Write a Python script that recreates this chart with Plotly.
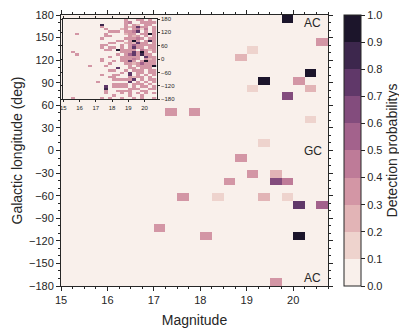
import numpy as np
import plotly.graph_objects as go

# ---------------- data ----------------
mag_edges = np.arange(15.0, 20.75 + 1e-9, 0.25)          # 23 magnitude bins
lon_edges = np.linspace(-180.0, 180.0, 36)               # 35 longitude bins

# main panel: non-empty cells (magnitude, longitude, detection probability)
cell_mag = [19.875, 20.625, 19.125, 18.875, 20.375, 19.375, 20.125, 19.125,
            20.375, 19.875, 17.375, 17.875, 20.375, 19.375, 18.875, 19.125,
            19.625, 18.625, 19.625, 19.875, 17.625, 18.375, 19.375, 19.875,
            20.125, 20.625, 17.125, 18.125, 20.125, 19.625]
cell_lon = [175, 144, 134, 123, 103, 93, 93, 82,
            82, 72, 51, 51, 41, 10, -10, -31,
            -31, -41, -41, -41, -62, -62, -62, -62,
            -72, -72, -103, -113, -113, -175]
cell_prob = [0.95, 0.35, 0.15, 0.28, 0.95, 0.95, 0.35, 0.15,
             0.25, 0.62, 0.35, 0.35, 0.15, 0.15, 0.35, 0.35,
             0.25, 0.35, 0.60, 0.42, 0.35, 0.15, 0.25, 0.15,
             0.75, 0.55, 0.35, 0.35, 0.95, 0.35]

# inset: rows from +180 (top) to -180 (bottom); '.' = empty, digit d = 0.d5
inset_rows = [
    "...............3..33.3.",
    "...............34..3333",
    ".........8.....3.32.33.",
    ".........3.....323733.3",
    "..........3...23.3414.3",
    "...........333.3347.3.3",
    "...3......3....233.3393",
    "..........33....323.3.3",
    ".........3.....33343.33",
    ".............33.393.383",
    "...........33..232733.3",
    ".........33...3.3533333",
    ".........3.33.3.3733.33",
    "..........33.93333.4323",
    "..3...........3337393.3",
    "...3.........3.3573833.",
    "...........3..33333.733",
    ".........3....33343.323",
    ".........3..3.3373.3933",
    "...........3...33235333",
    "......3...3.....3.33339",
    ".............7..33.333.",
    "...........33..3.333.33",
    "..............3.7.33.33",
    ".........3..33..7.3.3.3",
    "...........33...3233.3.",
    "............333337.3.33",
    "........3.......7.3.3.3",
    "............3333.333.3.",
    "..........7.3333.3.33.3",
    "..........8.....333..33",
    "..........3..3333..33..",
    "..........3...3.3.3.3.3",
    "............3...3..3...",
    "..3......3.3..3..3.3..3",
]

labels = [("AC", 170), ("GC", 0), ("AC", -170)]
cbar_ticks = [round(0.1 * i, 1) for i in range(11)]

# ---------------- build grids ----------------
mag_c = 0.5 * (mag_edges[:-1] + mag_edges[1:])
lon_c = 0.5 * (lon_edges[:-1] + lon_edges[1:])
nx, ny = len(mag_c), len(lon_c)

z_main = np.zeros((ny, nx))
for m, l, p in zip(cell_mag, cell_lon, cell_prob):
    i = np.clip(np.digitize(m, mag_edges) - 1, 0, nx - 1)
    j = np.clip(np.digitize(l, lon_edges) - 1, 0, ny - 1)
    z_main[j, i] = p

z_inset = np.zeros((ny, nx))
for r, row in enumerate(inset_rows):
    row = row.ljust(nx, ".")[:nx]
    for c, ch in enumerate(row):
        if ch != ".":
            z_inset[ny - 1 - r, c] = int(ch) / 10 + 0.05

# ---------------- colours (cubehelix, seaborn-like) ----------------
def cubehelix(x, start=0.0, rot=0.4, gamma=1.0, hue=0.8):
    xg = x ** gamma
    a = hue * xg * (1 - xg) / 2
    phi = 2 * np.pi * (start / 3 + rot * x)
    r = xg + a * (-0.14861 * np.cos(phi) + 1.78277 * np.sin(phi))
    g = xg + a * (-0.29227 * np.cos(phi) - 0.90649 * np.sin(phi))
    b = xg + a * (1.97294 * np.cos(phi))
    rgb = [int(round(255 * min(max(v, 0), 1))) for v in (r, g, b)]
    return "rgb(%d,%d,%d)" % tuple(rgb)

light, dark = 0.95, 0.10
nlev = 10
cols = [cubehelix(light + (dark - light) * k / (nlev - 1)) for k in range(nlev)]
colorscale = []
for k, c in enumerate(cols):
    colorscale.append([k / nlev, c])
    colorscale.append([(k + 1) / nlev, c])

# ---------------- figure ----------------
OFF = 8                       # page body margin in the browser
W, H = 407 - OFF, 333 - OFF
L, T = 61 - OFF, 15 - OFF
R, B = W - (328 - OFF), H - (286 - OFF)
pw, ph = W - L - R, H - T - B
axc = "#262626"
font = "Arial, Liberation Sans, Helvetica, sans-serif"

fig = go.Figure()
fig.add_trace(go.Heatmap(
    x=mag_c, y=lon_c, z=z_main, zmin=0, zmax=1, colorscale=colorscale,
    xaxis="x", yaxis="y", hoverinfo="skip",
    colorbar=dict(
        x=1 + (344 - 328) / pw, xanchor="left", xpad=0, ypad=0,
        y=0.5, yanchor="middle", len=1, lenmode="fraction", thickness=17,
        outlinewidth=1, outlinecolor=axc,
        tickvals=cbar_ticks, ticktext=["%.1f" % v for v in cbar_ticks],
        ticks="outside", ticklen=4, tickcolor=axc,
        tickfont=dict(size=11, color=axc, family=font),
        title=dict(text="Detection probabilitys", side="right",
                   font=dict(size=14, color=axc, family=font)),
    ),
))
fig.add_trace(go.Heatmap(
    x=mag_c, y=lon_c, z=z_inset, zmin=0, zmax=1, colorscale=colorscale,
    xaxis="x2", yaxis="y2", showscale=False, hoverinfo="skip",
))

for text, yv in labels:
    fig.add_annotation(x=20.42, y=yv, xref="x", yref="y", text=text,
                       showarrow=False, font=dict(size=12, color=axc, family=font))

# y-axis title
fig.add_annotation(x=(16 - 61) / pw, y=0.5, xref="paper", yref="paper",
                   text="Galactic longitude (deg)", textangle=-90, showarrow=False,
                   xanchor="center", yanchor="middle",
                   font=dict(size=14, color=axc, family=font))

ix0, ix1 = (63.3 - 61) / pw, (156.7 - 61) / pw
iy0, iy1 = (286 - 99.3) / ph, (286 - 19) / ph

fig.update_layout(
    width=W, height=H, margin=dict(l=L, r=R, t=T, b=B, autoexpand=False),
    paper_bgcolor="white", plot_bgcolor="white",
    font=dict(family=font, color=axc),
    xaxis=dict(
        range=[15, 20.75], tickvals=[15, 16, 17, 18, 19, 20],
        showline=True, linecolor=axc, linewidth=1, mirror="allticks",
        ticks="outside", ticklen=4, tickcolor=axc, showgrid=False, zeroline=False,
        minor=dict(dtick=0.25, tick0=15, ticks="outside", ticklen=2, tickcolor=axc),
        tickfont=dict(size=11), automargin=False,
        title=dict(text="Magnitude", font=dict(size=14), standoff=9),
    ),
    yaxis=dict(
        range=[-180, 180], tickvals=list(range(-180, 181, 30)),
        showline=True, linecolor=axc, linewidth=1, mirror="allticks",
        ticks="outside", ticklen=4, tickcolor=axc, showgrid=False, zeroline=False,
        minor=dict(dtick=10, tick0=-180, ticks="outside", ticklen=2, tickcolor=axc),
        tickfont=dict(size=11), automargin=False,
    ),
    xaxis2=dict(
        domain=[ix0, ix1], anchor="y2", range=[15, 20.75],
        tickvals=[15, 16, 17, 18, 19, 20],
        showline=True, linecolor=axc, linewidth=1.2, mirror="allticks",
        ticks="outside", ticklen=2, tickcolor=axc, showgrid=False, zeroline=False,
        tickfont=dict(size=6), automargin=False,
    ),
    yaxis2=dict(
        domain=[iy0, iy1], anchor="x2", range=[-180, 180], side="right",
        tickvals=list(range(-180, 181, 60)),
        showline=True, linecolor=axc, linewidth=1.2, mirror="allticks",
        ticks="outside", ticklen=2, tickcolor=axc, showgrid=False, zeroline=False,
        tickfont=dict(size=6), automargin=False,
    ),
)

fig.write_html("out.html")
